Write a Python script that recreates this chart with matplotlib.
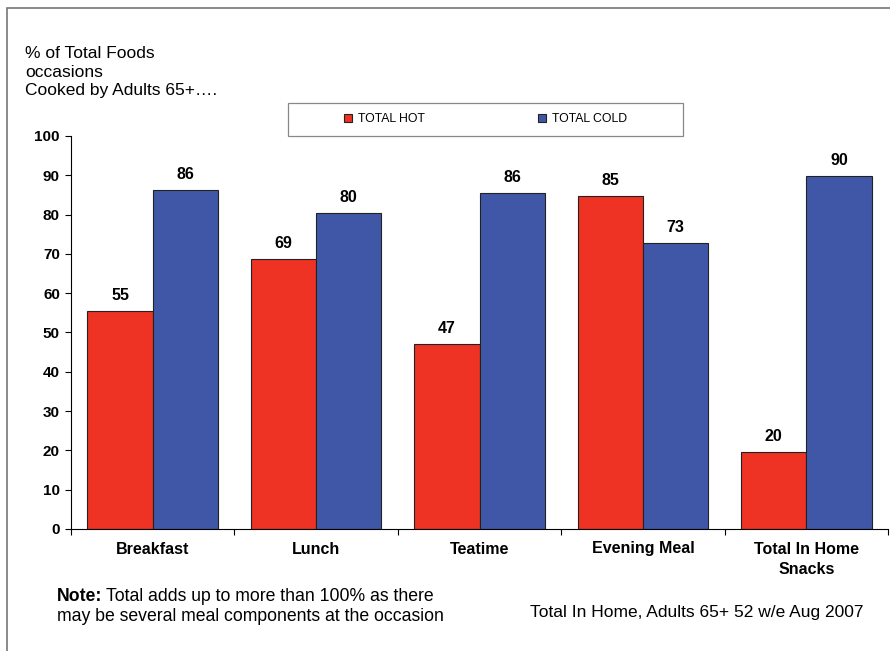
import matplotlib
matplotlib.use('Agg')

import matplotlib.pyplot as plt
from matplotlib.patches import Rectangle
import numpy as np

plt.rcParams['font.family'] = ['Liberation Sans', 'DejaVu Sans']

categories = ['Breakfast', 'Lunch', 'Teatime', 'Evening Meal', 'Total In Home\nSnacks']
hot = [55.4, 68.7, 47.1, 84.7, 19.6]
cold = [86.3, 80.4, 85.5, 72.8, 89.8]
series_names = ['TOTAL HOT', 'TOTAL COLD']

red = '#EE3224'
blue = '#3F57A6'

fig = plt.figure(figsize=(8.9, 6.51), dpi=100)
ax = fig.add_axes([71 / 890, 1 - 529 / 651, (888 - 71) / 890, (529 - 136) / 651])

x = np.arange(len(categories))
w = 0.4
b1 = ax.bar(x - w / 2, hot, w, color=red, edgecolor='#222222', linewidth=0.8, label=series_names[0])
b2 = ax.bar(x + w / 2, cold, w, color=blue, edgecolor='#222222', linewidth=0.8, label=series_names[1])

for bars, vals in ((b1, hot), (b2, cold)):
    for r, v in zip(bars, vals):
        ax.annotate('%d' % round(v), (r.get_x() + r.get_width() / 2, v),
                    xytext=(0, 6), textcoords='offset points',
                    ha='center', va='bottom', fontsize=11.5, fontweight='bold')

ax.set_xlim(-0.5, len(categories) - 0.5)
ax.set_ylim(0, 100)
ax.set_yticks(range(0, 101, 10))
ax.tick_params(axis='y', labelsize=11, length=4, pad=4, width=0.8)
for lab in ax.get_yticklabels():
    lab.set_fontweight('bold')

ax.set_xticks(x)
ax.set_xticklabels(categories, fontsize=11.5, fontweight='bold', linespacing=1.45)
ax.tick_params(axis='x', length=0, pad=9)
ax.set_xticks(np.arange(-0.5, len(categories)), minor=True)
ax.tick_params(axis='x', which='minor', length=4, width=0.8)

for s in ('top', 'right'):
    ax.spines[s].set_visible(False)
for s in ('left', 'bottom'):
    ax.spines[s].set_linewidth(0.8)

# legend: frame drawn separately, entries centred inside it
fig.patches.append(Rectangle((288 / 890, 1 - 136 / 651), (683 - 288) / 890, 33 / 651,
                             transform=fig.transFigure, fill=False,
                             edgecolor='#888888', linewidth=0.9))
leg = ax.legend(loc='center', bbox_to_anchor=(485.5 / 890, 1 - 119.5 / 651),
                bbox_transform=fig.transFigure, ncol=2, fontsize=8.8, frameon=False,
                handlelength=0.65, handleheight=0.65, handletextpad=0.45,
                columnspacing=9.3, borderaxespad=0)

# figure frame
fig.patches.append(Rectangle((7 / 890, -0.05), 1.1, 1 - 8 / 651 + 0.05, transform=fig.transFigure,
                             fill=False, edgecolor='#777777', linewidth=1.2))

fig.text(25 / 890, 1 - 46 / 651, '% of Total Foods\noccasions\nCooked by Adults 65+\u2026.',
         fontsize=12.5, va='top', ha='left', linespacing=1.3)

note_y = 1 - 588 / 651
t = fig.text(57 / 890, note_y, 'Note:', fontsize=12.7, fontweight='bold', va='top', ha='left')
fig.canvas.draw()
bb = t.get_window_extent()
fig.text(bb.x1 / 890 + 4 / 890, note_y, 'Total adds up to more than 100% as there',
         fontsize=12.7, va='top', ha='left')
fig.text(57 / 890, 1 - 608 / 651, 'may be several meal components at the occasion',
         fontsize=12.7, va='top', ha='left')
fig.text(864 / 890, 1 - 605 / 651, 'Total In Home, Adults 65+ 52 w/e Aug 2007',
         fontsize=12.5, va='top', ha='right')

plt.savefig('out.png', dpi=100)
plt.close(fig)
